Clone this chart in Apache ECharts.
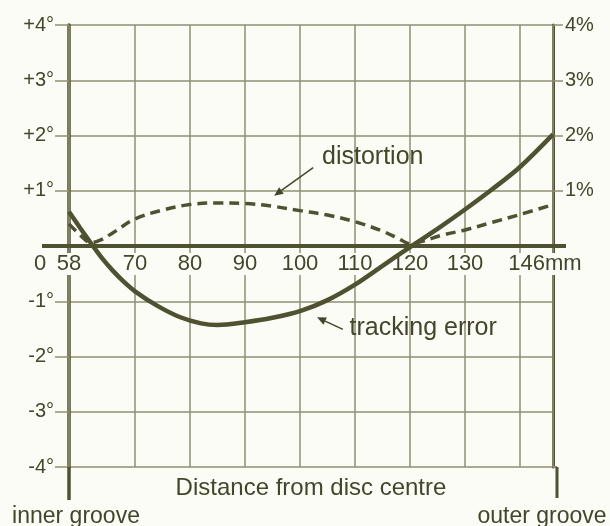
<!DOCTYPE html>
<html><head><meta charset="utf-8">
<script src="https://cdn.jsdelivr.net/npm/echarts@6/dist/echarts.min.js"></script>
<style>html,body{margin:0;padding:0;background:#fcfcf7;}#c{width:610px;height:526px;}</style>
</head><body><div id="c"></div>
<script>
// ---- data ----
const trackingX = [58,60,62,64,66,68,70,74,78,82,85,90,95,100,105,110,115,120,125,130,135,140,146];
const trackingErrorDeg = [0.62,0.33,0.05,-0.22,-0.45,-0.65,-0.82,-1.08,-1.28,-1.40,-1.43,-1.38,-1.30,-1.18,-0.98,-0.70,-0.36,-0.02,0.31,0.66,1.03,1.43,2.02];
const distortionX = [58,60,62,64,66,70,75,80,85,90,95,100,105,110,115,118,120,122,126,130,135,140,146];
const distortionPct = [0.40,0.20,0.06,0.12,0.24,0.49,0.65,0.75,0.78,0.77,0.72,0.64,0.56,0.44,0.27,0.13,0.04,0.08,0.20,0.29,0.43,0.57,0.75];
const xLabelValues = [58,70,80,90,100,110,120,130,146];
const xGridValues = [58,70,80,90,100,110,120,130,140,146];
const pctLabelValues = [1,2,3,4];
const xLabelUnit = 'mm';
const titleText = 'Distance from disc centre';
const innerText = 'inner groove';
const outerText = 'outer groove';
const distortionNote = {text:'distortion', textAt:[104.0,1.6], arrowFrom:[102.4,1.42], arrowTo:[95.3,0.91]};
const trackingNote = {text:'tracking error', textAt:[109.0,-1.49], arrowFrom:[107.8,-1.51], arrowTo:[103.1,-1.29]};

// ---- style ----
const INK = '#43462a';
const LINE = '#4e5230';
const GRID = '#8f9172';
const BG = '#fcfcf7';
const FONT = '"Liberation Sans", Arial, sans-serif';

const chart = echarts.init(document.getElementById('c'), null, {renderer:'canvas'});
const zip = (xs, ys) => xs.map((x,i)=>[x, ys[i]]);

const option = {
  backgroundColor: BG,
  animation: false,
  grid: {left: 69, right: 57, top: 25, bottom: 59, containLabel: false},
  xAxis: {
    type: 'value', min: 58, max: 146, z: 3,
    axisLine: {show: true, onZero: true, lineStyle: {color: LINE, width: 4}},
    axisTick: {show: false, customValues: xGridValues},
    axisLabel: {
      customValues: xLabelValues, margin: 8, color: INK, fontSize: 22, fontFamily: FONT,
      backgroundColor: BG, padding: [0, 1],
      formatter: v => v === 146 ? '{u|' + v + xLabelUnit + '}' : String(v),
      rich: {u: {fontSize: 22, fontFamily: FONT, color: INK, padding: [0, 16, 0, 0]}}
    },
    splitLine: {show: true, lineStyle: {color: GRID, width: 1.5}}
  },
  yAxis: [{
    type: 'value', min: -4, max: 4, interval: 1, position: 'left',
    axisLine: {show: true, onZero: false, lineStyle: {color: LINE, width: 3.5}},
    axisTick: {show: true, length: 14, lineStyle: {color: GRID, width: 1.5}},
    axisLabel: {margin: 15, color: INK, fontSize: 20, fontFamily: FONT,
      formatter: v => v > 0 ? '+' + v + '°' : (v < 0 ? '-' + Math.abs(v) + '°' : '')},
    splitLine: {show: true, lineStyle: {color: GRID, width: 1.5}}
  }, {
    type: 'value', min: -4, max: 4, interval: 1, position: 'right',
    axisLine: {show: true, onZero: false, lineStyle: {color: LINE, width: 3}},
    axisTick: {show: true, length: 10, customValues: pctLabelValues, lineStyle: {color: GRID, width: 1.5}},
    axisLabel: {customValues: pctLabelValues, margin: 12, color: INK, fontSize: 20, fontFamily: FONT,
      formatter: v => v + '%'},
    splitLine: {show: false}
  }],
  series: [{
    name: 'tracking error', type: 'line', yAxisIndex: 0, smooth: 0.3, showSymbol: false,
    data: zip(trackingX, trackingErrorDeg),
    lineStyle: {color: LINE, width: 4.5}, z: 4
  }, {
    name: 'distortion', type: 'line', yAxisIndex: 1, smooth: 0.35, showSymbol: false,
    data: zip(distortionX, distortionPct),
    lineStyle: {color: LINE, width: 3.5, type: [10, 6]}, z: 4
  }]
};
chart.setOption(option);

function px(x, y, yi) { return chart.convertToPixel({xAxisIndex: 0, yAxisIndex: yi || 0}, [x, y]); }
const p0 = px(58, 0), p1 = px(146, 0), pb0 = px(58, -4), pb1 = px(146, -4);
// put the x tick labels just under the zero line
chart.setOption({xAxis: {axisLabel: {margin: (p0[1] - pb0[1]) + 7}}});

const lineStyle = (w, c) => ({stroke: c || LINE, lineWidth: w});
const txt = (x, y, text, size, align, va) => ({type: 'text', x, y, z: 10,
  style: {text, fill: INK, font: size + 'px ' + FONT, textAlign: align || 'left', textVerticalAlign: va || 'middle'}});
function arrow(from, to, yi) {
  const a = px(from[0], from[1], yi), b = px(to[0], to[1], yi);
  const ang = Math.atan2(b[1]-a[1], b[0]-a[0]);
  const L = 9, W = 4;
  const bx = b[0] - L*Math.cos(ang), by = b[1] - L*Math.sin(ang);
  return [
    {type:'line', z:10, shape:{x1:a[0], y1:a[1], x2:bx, y2:by}, style: lineStyle(1.5, INK)},
    {type:'polygon', z:10, shape:{points:[[b[0],b[1]],[bx + W*Math.sin(ang), by - W*Math.cos(ang)],[bx - W*Math.sin(ang), by + W*Math.cos(ang)]]}, style:{fill: INK}}
  ];
}
const dt = px(distortionNote.textAt[0], distortionNote.textAt[1]);
const tt = px(trackingNote.textAt[0], trackingNote.textAt[1]);
const graphics = [
  {type:'line', z:3, shape:{x1:p0[0]-27, y1:p0[1], x2:p1[0]+13, y2:p1[1]}, style: lineStyle(4)},
  {type:'line', z:3, shape:{x1:pb0[0], y1:pb0[1], x2:pb0[0], y2:pb0[1]+33}, style: lineStyle(3.5)},
  {type:'line', z:3, shape:{x1:pb1[0], y1:pb1[1], x2:pb1[0]+4, y2:pb1[1]}, style: lineStyle(2, GRID)},
  {type:'line', z:3, shape:{x1:pb1[0]+4, y1:pb1[1], x2:pb1[0]+4, y2:pb1[1]+31}, style: lineStyle(3)},
  txt(p0[0]-29, p0[1]+18, '0', 22, 'center'),
  txt((p0[0]+p1[0])/2, pb0[1]+21, titleText, 24, 'center'),
  txt(pb0[0]+7, pb0[1]+50, innerText, 23, 'center'),
  txt(pb1[0]-11, pb1[1]+50, outerText, 23, 'center'),
  txt(dt[0], dt[1], distortionNote.text, 25, 'left'),
  txt(tt[0], tt[1], trackingNote.text, 25, 'left'),
  ...arrow(distortionNote.arrowFrom, distortionNote.arrowTo),
  ...arrow(trackingNote.arrowFrom, trackingNote.arrowTo)
];
chart.setOption({graphic: graphics});
</script></body></html>
